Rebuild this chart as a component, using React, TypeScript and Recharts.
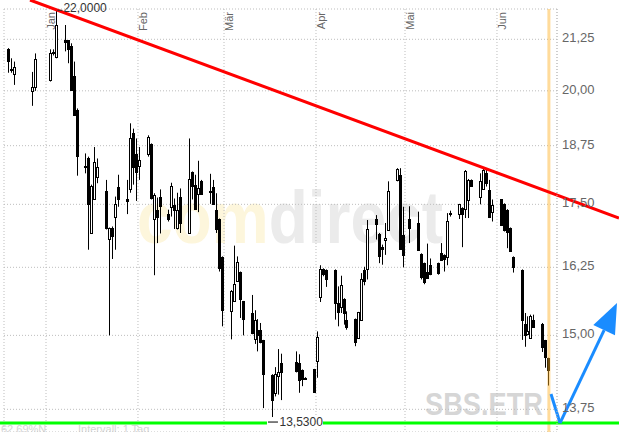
import React from 'react';
import { ComposedChart, Bar, XAxis, YAxis, CartesianGrid, ReferenceLine, ReferenceDot } from 'recharts';

// trading days as day offsets from 1 Jan 2008 (negative = Dec 2007)
const days = [-13, -12, -11, -5, -4, 1, 2, 3, 6, 7, 8, 9, 10, 13, 14, 15, 16, 17, 20, 21, 22, 23, 24, 27, 28, 29, 30,
  31, 34, 35, 36, 37, 38, 41, 42, 43, 44, 45, 48, 49, 50, 51, 52, 55, 56, 57, 58, 59,
  62, 63, 64, 65, 66, 69, 70, 71, 72, 73, 76, 77, 78, 79, 84, 85, 86, 87, 90,
  91, 92, 93, 94, 97, 98, 99, 100, 101, 104, 105, 106, 107, 108, 111, 112, 113, 114, 115, 118, 119, 120,
  122, 125, 126, 127, 128, 129, 132, 133, 134, 135, 136, 139, 140, 141, 142, 143, 146, 147, 148, 149, 150,
  153, 154, 155, 156, 157, 160, 161, 162, 163, 164, 167, 168, 169];
const opens = [21.00, 20.52, 20.41, 20.00, 20.08, 20.24, 20.93, 20.81, 21.23, 21.22, 21.09, 20.35, 19.55, 18.31, 18.49, 16.92, 17.61, 18.07, 17.78, 16.80, 17.02, 17.24, 17.86, 17.61, 17.81, 19.04, 18.57,
  18.30, 18.58, 18.79, 17.20, 17.39, 17.66, 17.30, 17.45, 17.49, 17.02, 17.66, 16.92, 18.17, 17.91, 17.71, 17.98, 17.77, 17.86, 17.38, 17.20, 16.45,
  15.45, 15.62, 16.00, 16.16, 15.61, 15.40, 14.93, 15.10, 15.10, 14.91, 14.32, 14.02, 14.30, 14.52, 14.53, 14.52, 14.40, 14.27, 14.41,
  14.56, 15.68, 16.21, 16.20, 16.20, 15.59, 15.50, 15.66, 15.28, 15.29, 14.95, 15.27, 16.20, 16.21, 17.20, 16.90, 16.64, 16.79, 16.99, 18.01, 18.12, 16.87,
  17.20, 17.12, 16.51, 16.33, 16.17, 16.29, 16.33, 16.53, 16.49, 16.46, 17.31, 17.30, 17.43, 17.41, 17.60, 18.01, 17.64, 17.81, 18.15, 17.80, 17.33,
  17.60, 17.51, 17.39, 17.02, 16.45, 16.20, 15.21, 15.01, 14.95, 15.28, 15.21, 14.91, 14.60];
const highs = [21.03, 20.78, 20.70, 20.45, 20.90, 21.00, 21.00, 22.00, 21.61, 21.23, 21.15, 20.70, 19.59, 18.58, 18.51, 17.91, 18.72, 18.47, 18.01, 17.03, 17.05, 17.66, 18.12, 18.01, 19.25, 19.13, 18.91,
  18.72, 18.98, 18.80, 17.73, 17.64, 17.81, 17.39, 17.95, 17.62, 17.74, 17.83, 18.91, 18.19, 18.12, 18.42, 18.01, 18.14, 18.01, 17.73, 17.21, 16.46,
  15.82, 16.67, 16.46, 16.17, 15.62, 15.73, 15.45, 15.29, 15.22, 14.92, 14.33, 14.45, 14.76, 14.68, 14.72, 14.67, 14.41, 14.28, 14.42,
  15.07, 16.29, 16.23, 16.21, 16.21, 15.89, 16.09, 15.67, 15.43, 15.30, 15.42, 16.14, 16.26, 17.18, 17.28, 16.92, 16.69, 17.12, 17.98, 18.26, 18.26, 17.45,
  17.46, 17.35, 16.52, 16.34, 16.71, 16.42, 16.34, 16.72, 16.50, 17.32, 17.37, 17.51, 17.44, 18.22, 18.03, 18.02, 18.15, 18.24, 18.22, 18.01, 17.60,
  17.61, 17.52, 17.40, 17.03, 16.46, 16.21, 15.40, 15.34, 15.37, 15.37, 15.22, 14.92, 14.61];
const lows = [20.43, 20.43, 20.14, 19.65, 20.00, 20.22, 20.85, 20.78, 20.95, 20.66, 20.00, 19.42, 18.10, 18.15, 16.59, 16.90, 17.60, 17.94, 16.99, 15.00, 16.41, 16.59, 17.45, 17.30, 17.74, 17.91, 17.57,
  18.01, 18.51, 17.60, 16.10, 16.72, 16.91, 17.15, 17.25, 17.00, 16.99, 16.92, 16.90, 17.60, 17.40, 17.34, 17.70, 17.51, 17.49, 16.92, 16.17, 15.16,
  14.93, 15.61, 15.99, 15.31, 15.00, 15.02, 14.85, 14.72, 14.86, 13.77, 13.53, 13.96, 13.99, 13.90, 14.36, 14.02, 14.13, 14.24, 14.02,
  14.27, 15.60, 16.08, 15.88, 15.28, 15.16, 15.40, 15.19, 15.10, 14.81, 14.94, 15.26, 15.91, 16.02, 16.79, 16.33, 16.30, 16.49, 16.97, 17.98, 16.60, 16.25,
  16.72, 16.58, 16.02, 15.93, 16.04, 16.10, 16.11, 16.38, 16.17, 16.29, 17.25, 17.20, 16.64, 17.22, 17.22, 17.87, 17.50, 17.80, 17.87, 17.22, 17.15,
  17.06, 16.95, 16.62, 16.55, 16.15, 14.92, 14.80, 15.00, 14.94, 15.15, 14.71, 14.44, 14.14];
const closes = [20.70, 20.49, 20.58, 20.10, 20.76, 20.90, 20.90, 21.61, 21.19, 21.00, 20.02, 19.44, 18.51, 18.30, 17.51, 17.89, 18.40, 18.28, 17.02, 17.02, 16.87, 17.50, 17.61, 17.57, 18.91, 18.30, 18.19,
  18.44, 18.95, 17.64, 17.69, 17.25, 17.48, 17.20, 17.88, 17.39, 17.39, 17.12, 18.03, 17.88, 17.41, 17.83, 17.71, 17.76, 17.50, 17.00, 16.23, 15.45,
  15.81, 15.94, 16.36, 15.65, 15.29, 15.04, 15.27, 15.01, 14.88, 14.32, 13.91, 14.33, 14.36, 14.37, 14.38, 14.24, 14.25, 14.26, 14.03,
  14.97, 16.21, 16.11, 16.02, 15.58, 15.43, 15.91, 15.40, 15.16, 14.88, 15.41, 16.02, 16.00, 17.00, 17.09, 16.47, 16.61, 16.82, 17.78, 18.24, 16.61, 16.47,
  17.02, 16.59, 16.07, 15.96, 16.05, 16.11, 16.13, 16.39, 16.41, 17.17, 17.32, 17.50, 17.30, 18.21, 18.01, 17.88, 17.98, 18.22, 17.94, 17.25, 17.48,
  17.07, 16.99, 16.95, 16.56, 16.25, 15.28, 15.01, 15.07, 15.35, 15.16, 14.81, 14.62, 14.40];

const monthTicks = [0, 31, 60, 91, 121, 152];
const monthLabels = ['Jan', 'Feb', 'Mär', 'Apr', 'Mai', 'Jun'];
const priceTicks = [13.75, 15, 16.25, 17.5, 18.75, 20, 21.25];

const highDay = 3;
const highPrice = 22.0;
const lowDay = 76;
const lowPrice = 13.53;
const todayDay = 169;
const trendLine = [{ x: -5.39, y: 22.255 }, { x: 193.12, y: 17.221 }];
const arrowLeg1 = [{ x: 170.21, y: 14.0 }, { x: 173.24, y: 13.53 }];
const arrowLeg2 = [{ x: 173.24, y: 13.53 }, { x: 192.45, y: 15.583 }];
const supportLine = [{ x: -16, y: 13.53 }, { x: 194, y: 13.53 }];

const xDomain = [-14.156, 172.23];
const yDomain = [13.388, 22.021];

const FONT = '"Liberation Sans", Arial, sans-serif';
const BLUE = '#1a8cff';

const data = days.map((d, i) => ({
  x: d + 0.5,
  range: [lows[i], highs[i]],
  open: opens[i],
  high: highs[i],
  low: lows[i],
  close: closes[i],
}));

const fmt = (v: number, n = 2) => v.toFixed(n).replace('.', ',');

const Candle = (props: any) => {
  const { x, y, width, height, payload } = props;
  if (!payload) return null;
  const { open, close, high, low } = payload;
  const top = Math.min(y, y + height);
  const h = Math.abs(height);
  const lh = Math.log(high);
  const span = lh - Math.log(low);
  const pos = (v: number) => (span > 0 ? top + ((lh - Math.log(v)) / span) * h : top);
  const cx = Math.floor(x + width / 2) + 0.5;
  const yO = pos(open);
  const yC = pos(close);
  const up = close >= open;
  const bTop = Math.round(Math.min(yO, yC)) + 0.5;
  const bH = Math.max(Math.round(Math.abs(yC - yO)), 1);
  return (
    <g>
      <line x1={cx} x2={cx} y1={top} y2={top + h} stroke="#000" strokeWidth={1} />
      <rect x={cx - 1} y={bTop} width={2} height={bH} fill={up ? '#fff' : '#000'} stroke="#000" strokeWidth={1} />
    </g>
  );
};

const YTick = (props: any) => {
  const { x, y, payload } = props;
  return (
    <text x={x} y={y - 1.5} dy="0.355em" fontSize={13} fill="#666" fontFamily={FONT} textAnchor="start">
      {fmt(payload.value)}
    </text>
  );
};

const MonthTick = (props: any) => {
  const { x, y, index } = props;
  const tx = x + 9;
  const ty = y + 3;
  return (
    <text x={tx} y={ty} transform={`rotate(-90 ${tx} ${ty})`} textAnchor="end" fontSize={11} fill="#666" fontFamily={FONT}>
      {monthLabels[index]}
    </text>
  );
};

const HighLabel = (props: any) => {
  const { cx, cy } = props;
  return (
    <g>
      <line x1={cx + 1} x2={cx + 6} y1={cy + 0.5} y2={cy + 0.5} stroke="#333" strokeWidth={1} />
      <text x={cx + 7} y={cy + 2.2} fontSize={12} fill="#333" fontFamily={FONT}>{fmt(highPrice, 4)}</text>
    </g>
  );
};

const LowLabel = (props: any) => {
  const { cx, cy } = props;
  return (
    <g>
      <rect x={cx - 6} y={cy - 6} width={56} height={12} fill="#fff" />
      <line x1={cx - 5} x2={cx + 5} y1={cy - 1} y2={cy - 1} stroke="#000" strokeWidth={1} />
      <text x={cx + 6.5} y={cy + 3} fontSize={12} fill="#333" fontFamily={FONT}>{fmt(lowPrice, 4)}</text>
    </g>
  );
};

const ArrowShape = (props: any) => {
  const { x1, y1, x2, y2 } = props;
  const dx = x2 - x1;
  const dy = y2 - y1;
  const len = Math.hypot(dx, dy) || 1;
  const ux = dx / len;
  const uy = dy / len;
  const bx = x2 - ux * 30;
  const by = y2 - uy * 30;
  const px = -uy;
  const py = ux;
  return (
    <g>
      <line x1={x1} y1={y1} x2={bx} y2={by} stroke={BLUE} strokeWidth={3} />
      <polygon points={`${x2},${y2} ${bx + px * 12},${by + py * 12} ${bx - px * 12},${by - py * 12}`} fill={BLUE} />
    </g>
  );
};

export default function App() {
  return (
    <div style={{ position: 'absolute', left: 0, top: 0, width: 619, height: 432, background: '#fff', overflow: 'hidden' }}>
      <svg width={619} height={432} style={{ position: 'absolute', left: 0, top: 0 }}>
        <text x={137} y={243} fontSize={74} fontWeight="bold" fontFamily={FONT} textLength={306} lengthAdjust="spacingAndGlyphs">
          <tspan fill="#fdf6dc">com</tspan>
          <tspan fill="#ebebeb">direct</tspan>
        </text>
        <text x={425} y={415} fontSize={31} fontWeight="bold" fontFamily={FONT} fill="#d6d6d6" textLength={118} lengthAdjust="spacingAndGlyphs">SBS.ETR</text>
        <text x={1} y={433} fontSize={11} fontFamily={FONT} fill="#d4d4d4">62,69%N</text>
        <text x={78} y={433} fontSize={11} fontFamily={FONT} fill="#d4d4d4">Intervall: 1 Tag</text>
      </svg>
      <div style={{ position: 'absolute', left: 0, top: 0 }}>
        <ComposedChart width={619} height={432} data={data} margin={{ top: 8, right: 0, bottom: 0, left: 4 }}>
          <CartesianGrid stroke="#bdbdbd" strokeDasharray="1 2" />
          <XAxis
            dataKey="x"
            type="number"
            orientation="top"
            height={1}
            domain={xDomain}
            allowDataOverflow
            ticks={monthTicks}
            interval={0}
            axisLine={false}
            tickLine={false}
            tickSize={0}
            tickMargin={0}
            tick={<MonthTick />}
          />
          <YAxis
            orientation="right"
            width={62}
            scale="log"
            domain={yDomain}
            allowDataOverflow
            ticks={priceTicks}
            interval={0}
            axisLine={{ stroke: '#bdbdbd', strokeDasharray: '1 2' }}
            tickLine={false}
            tickSize={0}
            tickMargin={5}
            tick={<YTick />}
          />
          <Bar dataKey="range" barSize={3} shape={<Candle />} isAnimationActive={false} />
          <ReferenceLine x={todayDay + 0.5} stroke="#ffb020" strokeOpacity={0.45} strokeWidth={3} ifOverflow="visible" />
          <ReferenceLine segment={supportLine} stroke="#00ff00" strokeWidth={3} ifOverflow="visible" />
          <ReferenceLine segment={trendLine} stroke="#ff0000" strokeWidth={3} ifOverflow="visible" />
          <ReferenceLine segment={arrowLeg1} stroke={BLUE} strokeWidth={3} ifOverflow="visible" />
          <ReferenceLine segment={arrowLeg2} stroke={BLUE} strokeWidth={3} ifOverflow="visible" shape={<ArrowShape />} />
          <ReferenceDot x={highDay + 0.5} y={highPrice} r={0} ifOverflow="visible" shape={<HighLabel />} />
          <ReferenceDot x={lowDay + 0.5} y={lowPrice} r={0} ifOverflow="visible" shape={<LowLabel />} />
        </ComposedChart>
      </div>
    </div>
  );
}
